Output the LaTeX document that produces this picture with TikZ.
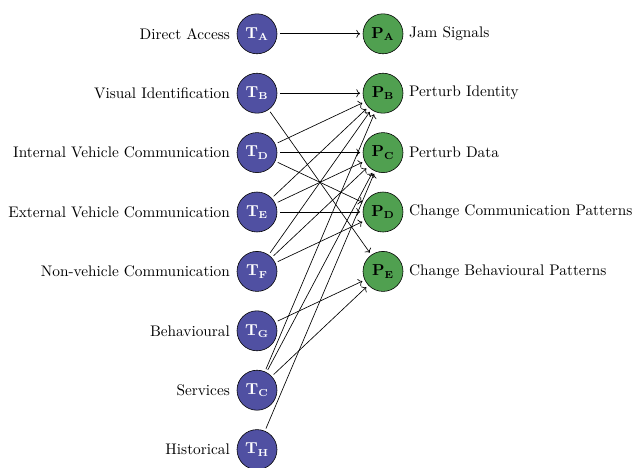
\documentclass[tikz,border=0pt]{standalone}
\usetikzlibrary{arrows.meta}
\definecolor{tblue}{RGB}{80,80,162}
\definecolor{pgreen}{RGB}{80,160,80}
\begin{document}
\begin{tikzpicture}[x=0.69pt,y=-0.69pt,
  every node/.style={font=\fontsize{10.57}{12.7}\selectfont},
  tnode/.style={circle,draw=black,fill=tblue,text=white,minimum size=27.6pt,inner sep=0pt,outer sep=2pt},
  pnode/.style={circle,draw=black,fill=pgreen,text=black,minimum size=27.6pt,inner sep=0pt,outer sep=2pt},
  ltext/.style={anchor=east},
  rtext/.style={anchor=west},
  edge/.style={->,line width=0.45pt}]
\useasboundingbox (0,0) rectangle (632,467);
% T nodes
\node[tnode] (ta) at (257,33.8) {$\mathbf{T_A}$};
\node[tnode] (tb) at (257,93.2) {$\mathbf{T_B}$};
\node[tnode] (td) at (257,152.6) {$\mathbf{T_D}$};
\node[tnode] (te) at (257,212.0) {$\mathbf{T_E}$};
\node[tnode] (tf) at (257,271.4) {$\mathbf{T_F}$};
\node[tnode] (tg) at (257,330.8) {$\mathbf{T_G}$};
\node[tnode] (tc) at (257,390.2) {$\mathbf{T_C}$};
\node[tnode] (th) at (257,449.6) {$\mathbf{T_H}$};
% P nodes
\node[pnode] (pa) at (383,33.8) {$\mathbf{P_A}$};
\node[pnode] (pb) at (383,93.2) {$\mathbf{P_B}$};
\node[pnode] (pc) at (383,152.6) {$\mathbf{P_C}$};
\node[pnode] (pd) at (383,212.0) {$\mathbf{P_D}$};
\node[pnode] (pe) at (383,271.4) {$\mathbf{P_E}$};
% left labels
\node[ltext] (la) at (235,33.8) {Direct Access};
\node[ltext] (lb) at (235,93.2) {Visual Identification};
\node[ltext] (ld) at (235,152.6) {Internal Vehicle Communication};
\node[ltext] (le) at (235,212.0) {External Vehicle Communication};
\node[ltext] (lf) at (235,271.4) {Non-vehicle Communication};
\node[ltext] (lg) at (235,330.8) {Behavioural};
\node[ltext] (lc) at (235,390.2) {Services};
\node[ltext] (lh) at (235,449.6) {Historical};
% right labels
\node[rtext] (ra) at (404,33.8) {Jam Signals};
\node[rtext] (rb) at (404,93.2) {Perturb Identity};
\node[rtext] (rc) at (404,152.6) {Perturb Data};
\node[rtext] (rd) at (404,212.0) {Change Communication Patterns};
\node[rtext] (re) at (404,271.4) {Change Behavioural Patterns};
% edges
\draw[edge] (ta) -- (pa);
\draw[edge] (tb) -- (pb);
\draw[edge] (tb) -- (pe);
\draw[edge] (td) -- (pb);
\draw[edge] (td) -- (pc);
\draw[edge] (td) -- (pd);
\draw[edge] (te) -- (pb);
\draw[edge] (te) -- (pc);
\draw[edge] (te) -- (pd);
\draw[edge] (tf) -- (pb);
\draw[edge] (tf) -- (pc);
\draw[edge] (tf) -- (pd);
\draw[edge] (tg) -- (pe);
\draw[edge] (tc) -- (pb);
\draw[edge] (tc) -- (pc);
\draw[edge] (tc) -- (pe);
\draw[edge] (th) -- (pc);
\end{tikzpicture}
\end{document}
